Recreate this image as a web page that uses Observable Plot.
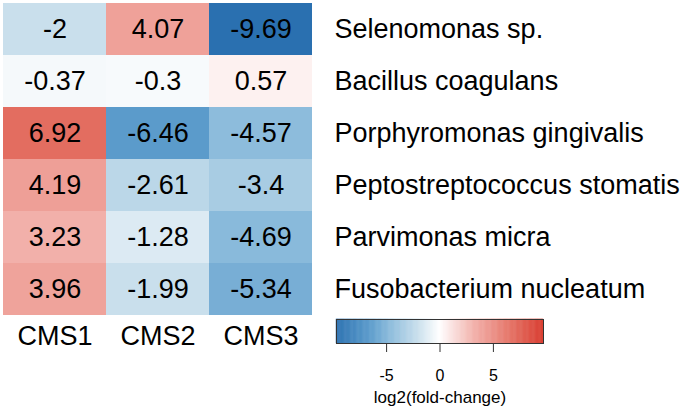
<!DOCTYPE html>
<html>
<head>
<meta charset="utf-8">
<script src="https://cdn.jsdelivr.net/npm/d3@7"></script>
<script src="https://cdn.jsdelivr.net/npm/@observablehq/plot@0.6"></script>
<style>
  html, body { margin: 0; padding: 0; background: #fff; }
  #wrap { position: relative; width: 685px; height: 415px; overflow: hidden; }
  #legend { position: absolute; left: 320px; top: 300px; }
</style>
</head>
<body>
<div id="wrap"><div id="main"></div><div id="legend"></div></div>
<script>
// Data
const columns = ["CMS1", "CMS2", "CMS3"];
const species = [
  "Selenomonas sp.",
  "Bacillus coagulans",
  "Porphyromonas gingivalis",
  "Peptostreptococcus stomatis",
  "Parvimonas micra",
  "Fusobacterium nucleatum"
];
const cms1 = [-2, -0.37, 6.92, 4.19, 3.23, 3.96];
const cms2 = [4.07, -0.3, -6.46, -2.61, -1.28, -1.99];
const cms3 = [-9.69, 0.57, -4.57, -3.4, -4.69, -5.34];
const legendTicks = [-5, 0, 5];
const legendLabel = "log2(fold-change)";

const series = [cms1, cms2, cms3];
const table = [];
species.forEach((s, i) => columns.forEach((c, j) => table.push({species: s, cms: c, value: series[j][i]})));

const maxAbs = d3.max(table, d => Math.abs(d.value));
// diverging palette (colour stops as fractions of the max absolute value)
const stopFrac = [-1, -0.667, -0.47, -0.206, 0, 0.333, 0.714, 1];
const stopColors = ["#2a70b0", "#5b9bcb", "#8dbcdc", "#c9dfec", "#ffffff", "#f2b0aa", "#e36d60", "#d83a2d"];
const colorScale = {
  type: "linear",
  domain: stopFrac.map(f => f * maxAbs),
  range: stopColors,
  interpolate: "rgb"
};
const font = "'Liberation Sans', Arial, Helvetica, sans-serif";

const main = Plot.plot({
  width: 685,
  height: 415,
  marginLeft: 2,
  marginRight: 373,
  marginTop: 2,
  marginBottom: 99,
  style: {fontFamily: font, fontSize: "27px", color: "#000", background: "#fff"},
  x: {domain: columns, padding: 0, label: null},
  y: {domain: species, padding: 0, label: null},
  color: colorScale,
  marks: [
    Plot.cell(table, {x: "cms", y: "species", fill: "value"}),
    Plot.text(table, {x: "cms", y: "species", text: d => String(d.value), fill: "#000", fontSize: 27}),
    Plot.axisX({anchor: "bottom", tickSize: 0, tickPadding: 9, label: null, fontSize: 27}),
    Plot.axisY({anchor: "right", tickSize: 0, tickPadding: 22, label: null, textAnchor: "start", fontSize: 27})
  ]
});
document.getElementById("main").appendChild(main);

// Colour bar samples (legend gradient only)
const steps = 240;
const lo = -maxAbs, hi = maxAbs;
const stepW = (hi - lo) / steps;
const ramp = d3.range(steps).map(i => ({x1: lo + i * stepW, x2: lo + (i + 1) * stepW, v: lo + (i + 0.5) * stepW}));

const leg = Plot.plot({
  width: 240,
  height: 115,
  marginLeft: 16,
  marginRight: 17,
  marginTop: 19,
  marginBottom: 72,
  style: {fontFamily: font, fontSize: "16px", color: "#000", background: "transparent"},
  x: {domain: [lo, hi], label: null},
  y: {domain: [0, 1], axis: null},
  color: colorScale,
  marks: [
    Plot.rect(ramp, {x1: "x1", x2: "x2", y1: 0, y2: 1, fill: "v", stroke: "v", strokeWidth: 0.5}),
    Plot.frame({stroke: "#333", strokeWidth: 1}),
    Plot.axisX({anchor: "bottom", ticks: legendTicks, tickSize: 9, tickPadding: 17, tickFormat: d => String(d), label: null, fontSize: 16, stroke: "#333"}),
    Plot.text([legendLabel], {text: d => d, frameAnchor: "bottom", dy: 59, fontSize: 17, fill: "#000"})
  ]
});
document.getElementById("legend").appendChild(leg);
</script>
</body>
</html>
